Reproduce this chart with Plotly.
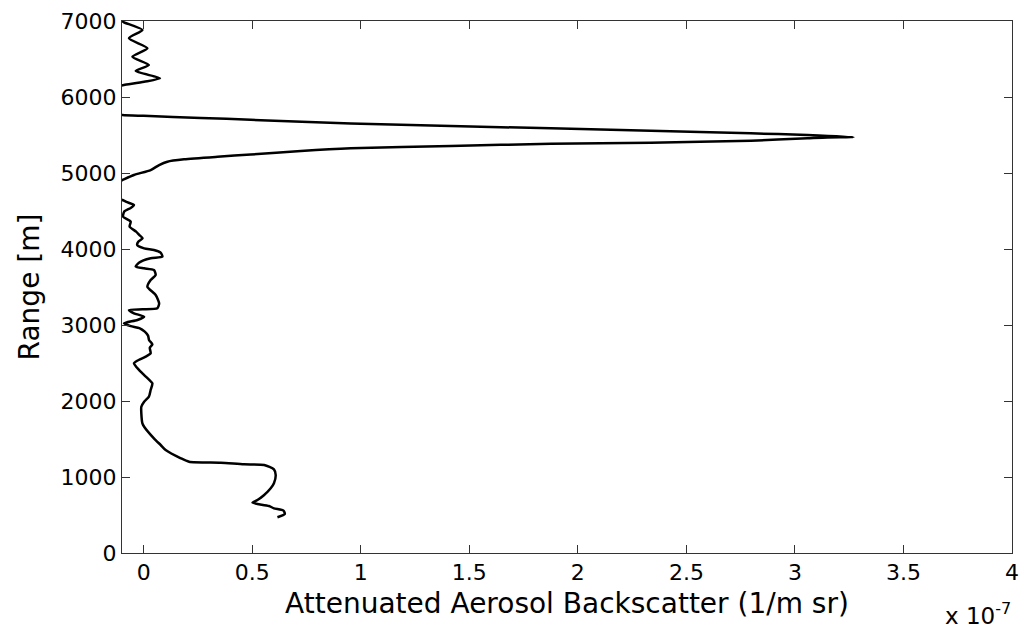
import plotly.graph_objects as go

# Range [m] (vertical) and attenuated aerosol backscatter (x 1e-7 1/(m sr))
range_m = [
    470, 513, 557, 588, 618, 645, 662, 697, 763, 851, 917, 1026, 1101, 1158,
    1167, 1188, 1201, 1246, 1355, 1421, 1509, 1662, 1706, 1838, 1925, 1991,
    2057, 2145, 2233, 2267, 2364, 2451, 2496, 2530, 2583, 2628, 2700, 2745,
    2800, 2860, 2912, 2960, 2985, 3022, 3066, 3109, 3154, 3197, 3207, 3220,
    3285, 3395, 3504, 3592, 3658, 3724, 3746, 3768, 3820, 3878, 3899, 3952,
    3987, 4009, 4053, 4096, 4141, 4184, 4228, 4294, 4360, 4425, 4491, 4540,
    4579, 4620, 4645, 4700, 4800, 4880, 4908, 4974, 5039, 5105, 5149, 5180,
    5214, 5243, 5290, 5325, 5355, 5385, 5399, 5425, 5457, 5468, 5472, 5500,
    5522, 5557, 5588, 5618, 5650, 5700, 5725, 5752, 5763, 5800, 6000, 6140,
    6149, 6158, 6201, 6246, 6342, 6421, 6530, 6641, 6772, 6882, 6983, 7000,
]
backscatter = [
    0.616, 0.650, 0.644, 0.600, 0.577, 0.524, 0.501, 0.524, 0.555, 0.585,
    0.600, 0.608, 0.600, 0.555, 0.462, 0.355, 0.209, 0.171, 0.101, 0.078,
    0.047, 0.002, -0.006, -0.011, -0.011, 0.002, 0.024, 0.032, 0.040, 0.029,
    -0.006, -0.035, -0.045, -0.030, 0.009, 0.032, 0.028, 0.040, 0.025, 0.020,
    0.005, -0.020, -0.060, -0.091, -0.029, 0.002, -0.045, -0.068, -0.006,
    0.063, 0.071, 0.055, 0.017, 0.032, 0.055, 0.047, 0.002, -0.037, -0.022,
    0.032, 0.086, 0.078, 0.047, 0.002, -0.030, -0.025, -0.005, -0.020,
    -0.035, -0.065, -0.060, -0.095, -0.090, -0.060, -0.045, -0.080, -0.098,
    -0.140, -0.160, -0.120, -0.098, -0.045, 0.032, 0.071, 0.109, 0.186,
    0.340, 0.493, 0.724, 0.954, 1.415, 1.876, 2.336, 2.797, 3.058, 3.150,
    3.270, 3.058, 2.797, 2.336, 1.876, 1.415, 0.954, 0.493, 0.263, 0.000,
    -0.098, -0.200, -0.250, -0.200, -0.106, -0.091, 0.002, 0.075, -0.037,
    0.024, -0.052, 0.017, -0.068, -0.006, -0.091, -0.100,
]

x_tickvals = [0, 0.5, 1, 1.5, 2, 2.5, 3, 3.5, 4]
x_ticktext = ["0", "0.5", "1", "1.5", "2", "2.5", "3", "3.5", "4"]
y_tickvals = [0, 1000, 2000, 3000, 4000, 5000, 6000, 7000]
y_ticktext = ["0", "1000", "2000", "3000", "4000", "5000", "6000", "7000"]

FONT = "DejaVu Sans"

fig = go.Figure()
fig.add_trace(go.Scatter(
    x=backscatter, y=range_m, mode="lines",
    line=dict(color="black", width=2.5, shape="spline", smoothing=0.6),
    showlegend=False, hoverinfo="skip",
))

axis_common = dict(
    showgrid=False, zeroline=False, showline=True, linecolor="#333333",
    linewidth=1, mirror="ticks", ticks="inside", ticklen=8, tickwidth=1,
    tickcolor="#333333", tickfont=dict(family=FONT, size=22, color="black"),
)

fig.update_layout(
    width=1028, height=633,
    margin=dict(l=122, r=16, t=21, b=80, autoexpand=False),
    paper_bgcolor="white", plot_bgcolor="white",
    font=dict(family=FONT, color="black"),
    xaxis=dict(
        range=[-0.1, 4], tickvals=x_tickvals, ticktext=x_ticktext,
        title=dict(text="Attenuated Aerosol Backscatter (1/m sr)",
                   font=dict(family=FONT, size=28, color="black"), standoff=8),
        **axis_common,
    ),
    yaxis=dict(
        range=[0, 7000], tickvals=y_tickvals, ticktext=y_ticktext,
        title=dict(text="Range [m]",
                   font=dict(family=FONT, size=28, color="black"), standoff=12),
        **axis_common,
    ),
    annotations=[dict(
        text="x 10<sup>-7</sup>", xref="paper", yref="paper",
        x=1.001, y=-0.115, xanchor="right", yanchor="middle",
        showarrow=False, font=dict(family=FONT, size=23, color="black"),
    )],
)

fig.write_html("out.html")
